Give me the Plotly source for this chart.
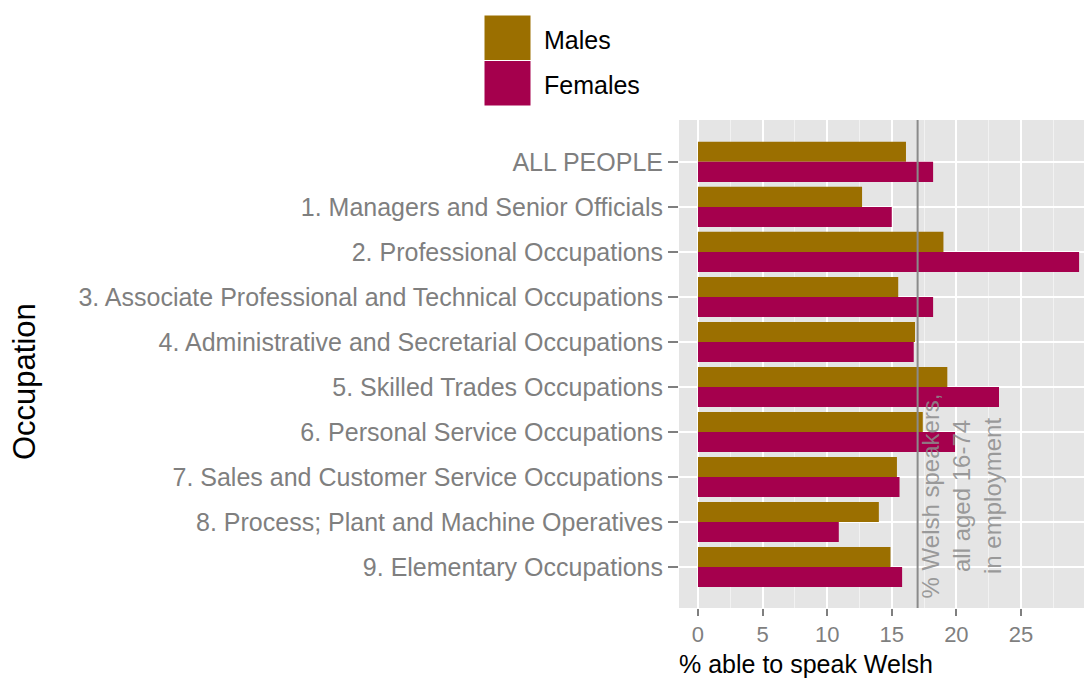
import plotly.graph_objects as go

# Occupation groups, top to bottom
occupations = [
    "ALL PEOPLE",
    "1. Managers and Senior Officials",
    "2. Professional Occupations",
    "3. Associate Professional and Technical Occupations",
    "4. Administrative and Secretarial Occupations",
    "5. Skilled Trades Occupations",
    "6. Personal Service Occupations",
    "7. Sales and Customer Service Occupations",
    "8. Process; Plant and Machine Operatives",
    "9. Elementary Occupations",
]

# % able to speak Welsh
males = [16.1, 12.7, 19.0, 15.5, 16.8, 19.3, 17.4, 15.4, 14.0, 14.9]
females = [18.2, 15.0, 29.5, 18.2, 16.7, 23.3, 19.9, 15.6, 10.9, 15.8]

series_names = ["Males", "Females"]
series_colors = ["#9B6F00", "#A5004D"]

# Reference level: all Welsh speakers aged 16-74 in employment
welsh_speakers_all = 17.0
x_ticks = [0, 5, 10, 15, 20, 25]

W, H = 1084, 678
M_L, M_R, M_T, M_B = 679, 0, 120, 70
plot_w = W - M_L - M_R
plot_h = H - M_T - M_B


def px_x(p):
    return (p - M_L) / plot_w


def px_y(p):
    return (H - M_B - p) / plot_h


fig = go.Figure()
for name, vals, col in zip(series_names, [males, females], series_colors):
    fig.add_trace(go.Bar(
        y=occupations, x=vals, orientation="h", name=name,
        marker=dict(color=col, line=dict(width=0)),
        showlegend=False,
    ))

grey = "#7F7F7F"
base_font = "Liberation Sans, Arial, sans-serif"

fig.update_layout(
    width=W, height=H,
    margin=dict(l=M_L, r=M_R, t=M_T, b=M_B),
    paper_bgcolor="white",
    plot_bgcolor="#E5E5E5",
    barmode="group",
    bargap=0.11,
    bargroupgap=0,
    font=dict(family=base_font),
    xaxis=dict(
        range=[-1.47, 29.88],
        tickvals=x_ticks,
        ticks="outside", ticklen=7, tickwidth=1.5, tickcolor=grey,
        tickfont=dict(family=base_font, size=22, color=grey),
        showgrid=True, gridcolor="white", gridwidth=1.5,
        minor=dict(dtick=2.5, tick0=0, showgrid=True, gridcolor="#F2F2F2", gridwidth=1),
        zeroline=False, showline=False,
    ),
    yaxis=dict(
        type="category",
        categoryorder="array", categoryarray=occupations,
        range=[9.91, -0.93],
        ticks="outside", ticklen=10, tickwidth=1.5, tickcolor=grey,
        tickfont=dict(family=base_font, size=25, color=grey),
        showgrid=True, gridcolor="white", gridwidth=1.5,
        zeroline=False, showline=False,
    ),
)

# Reference line
fig.add_shape(type="line", xref="x", yref="paper",
              x0=welsh_speakers_all, x1=welsh_speakers_all, y0=0, y1=1,
              line=dict(color="#8A8A8A", width=2), layer="above")

fig.add_annotation(
    x=welsh_speakers_all + 3.4, y=7.42, xref="x", yref="y",
    text="% Welsh speakers,<br>all aged 16-74<br>in employment",
    textangle=-90, showarrow=False, align="center",
    xanchor="center", yanchor="middle",
    font=dict(size=24, color="rgba(140,140,140,0.85)"),
)

# Legend keys
key_top = 15
key_h = 45.5
for i, (name, col) in enumerate(zip(series_names, series_colors)):
    y0p = key_top + i * key_h
    fig.add_shape(type="rect", xref="paper", yref="paper",
                  x0=px_x(484), x1=px_x(531),
                  y0=px_y(y0p + key_h), y1=px_y(y0p),
                  fillcolor=col, line=dict(color="white", width=1))
    fig.add_annotation(x=px_x(542), y=px_y(y0p + key_h / 2 + 2), xref="paper", yref="paper",
                       text=name, showarrow=False, xanchor="left", yanchor="middle",
                       font=dict(size=25, color="black"))

# Axis titles
fig.add_annotation(x=px_x(806), y=px_y(664), xref="paper", yref="paper",
                   text="% able to speak Welsh", showarrow=False,
                   xanchor="center", yanchor="middle",
                   font=dict(size=25, color="black"))
fig.add_annotation(x=px_x(24), y=px_y(382), xref="paper", yref="paper",
                   text="Occupation", showarrow=False, textangle=-90,
                   xanchor="center", yanchor="middle",
                   font=dict(size=31, color="black"))

fig.write_html("out.html")
